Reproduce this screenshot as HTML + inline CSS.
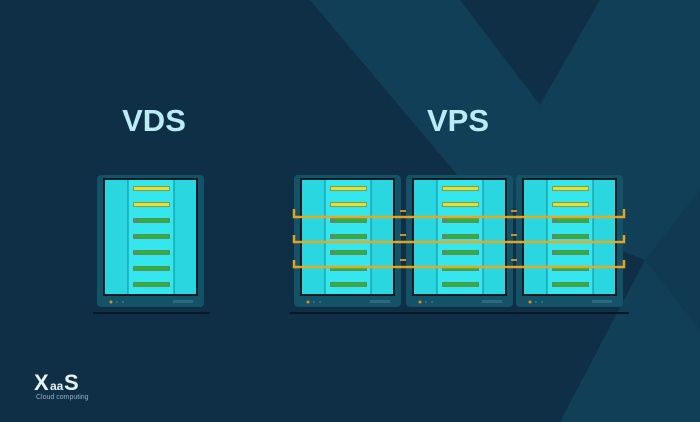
<!DOCTYPE html>
<html><head><style>html,body{margin:0;padding:0;background:#0e2f45;}svg{display:block}</style></head>
<body>
<svg width="700" height="422" viewBox="0 0 700 422" xmlns="http://www.w3.org/2000/svg">
<defs>
<g id="srv">
  <rect x="-6" y="-3" width="107" height="132" rx="4" fill="#145268"/>
  <rect x="0" y="0" width="95" height="118" fill="#0a1c26"/>
  <rect x="2" y="2" width="91" height="114" fill="#2ad6df"/>
  <rect x="25" y="2" width="46" height="114" fill="#34e6ee"/>
  <line x1="25" y1="2" x2="25" y2="116" stroke="#138a95" stroke-width="1"/>
  <line x1="71" y1="2" x2="71" y2="116" stroke="#138a95" stroke-width="1"/>
  <g fill="#5e8a64">
    <rect x="30" y="8" width="37" height="5" fill="#8a9a40"/>
    <rect x="30" y="24" width="37" height="5" fill="#8a9a40"/>
    <rect x="30" y="40" width="37" height="5"/>
    <rect x="30" y="56" width="37" height="5"/>
    <rect x="30" y="72" width="37" height="5"/>
    <rect x="30" y="88" width="37" height="5"/>
    <rect x="30" y="104" width="37" height="5"/>
  </g>
  <g fill="#dfe23a">
    <rect x="31" y="9" width="35" height="3"/>
    <rect x="31" y="25" width="35" height="3"/>
  </g>
  <g fill="#2fb23a">
    <rect x="36" y="41" width="30" height="3"/>
    <rect x="34" y="57" width="32" height="3"/>
    <rect x="34" y="73" width="32" height="3"/>
    <rect x="31" y="89" width="35" height="3"/>
    <rect x="31" y="105" width="35" height="3"/>
  </g>
  <rect x="-10" y="134" width="117" height="2" fill="#071822"/>
  <circle cx="8" cy="124" r="1.5" fill="#d89020"/>
  <circle cx="14" cy="124" r="1" fill="#3a7a90"/>
  <circle cx="20" cy="124" r="1" fill="#3a7a90"/>
  <rect x="70" y="122" width="20" height="3" fill="#2c6a80"/>
</g>
</defs>
<rect width="700" height="422" fill="#0e2f45"/>
<polygon points="310,0 460,0 540,105 600,0 700,0 700,422 560,422 645,260 470,190" fill="#123f58"/>
<polygon points="645,260 700,190 700,330" fill="#0f3a52"/>
<text x="154" y="131" text-anchor="middle" font-family="Liberation Sans, sans-serif" font-weight="bold" font-size="31" fill="#b9ecf4">VDS</text>
<text x="458" y="131" text-anchor="middle" font-family="Liberation Sans, sans-serif" font-weight="bold" font-size="31" fill="#b9ecf4">VPS</text>
<use href="#srv" x="103" y="178"/>
<use href="#srv" x="300" y="178"/>
<use href="#srv" x="412" y="178"/>
<use href="#srv" x="522" y="178"/>
<g fill="none" stroke="#f0a81a" stroke-width="2.5" opacity="0.95">
  <path d="M294,209 V217 H624 V209"/>
  <path d="M294,235 V242 H624 V235"/>
  <path d="M294,260 V267 H624 V260"/>
</g>
<g fill="#c89030">
  <rect x="400" y="210" width="6" height="2"/><rect x="400" y="234" width="6" height="2"/><rect x="400" y="259" width="6" height="2"/>
  <rect x="511" y="210" width="6" height="2"/><rect x="511" y="234" width="6" height="2"/><rect x="511" y="259" width="6" height="2"/>
</g>
<text x="34" y="390" font-family="Liberation Sans, sans-serif" font-weight="bold" font-size="22" fill="#e6f2f6">X</text>
<text x="50" y="390" font-family="Liberation Sans, sans-serif" font-weight="bold" font-size="12" fill="#e6f2f6">aa</text>
<text x="64" y="390" font-family="Liberation Sans, sans-serif" font-weight="bold" font-size="22" fill="#e6f2f6">S</text>
<text x="36" y="399" font-family="Liberation Sans, sans-serif" font-size="7" fill="#8fb0bf">Cloud computing</text>
</svg>
</body></html>
